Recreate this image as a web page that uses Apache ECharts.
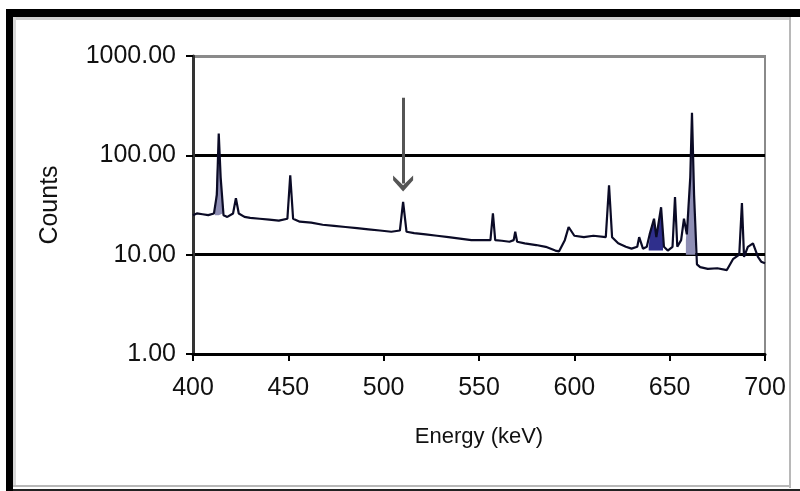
<!DOCTYPE html>
<html>
<head>
<meta charset="utf-8">
<script src="https://cdn.jsdelivr.net/npm/echarts@6/dist/echarts.min.js"></script>
<style>
html,body{margin:0;padding:0;background:#fff;}
#c{width:800px;height:491px;}
</style>
</head>
<body>
<div id="c"></div>
<script>
// Spectrum (Energy keV vs Counts)
const energy = [400, 402, 405, 408, 411, 412.5, 413.5, 414.5, 416, 418, 421, 422.5, 424, 427, 430, 435, 440, 445, 449.5, 451, 452.5, 456, 462, 468, 474, 480, 486, 492, 498, 504, 508.5, 510.2, 512, 516, 522, 528, 534, 540, 546, 552, 556, 557.3, 558.5, 562, 566, 568.2, 569, 570, 574, 580, 585, 590, 592, 595, 597, 600, 605, 610, 616.5, 618.2, 619.8, 623, 627, 630, 633, 634, 636, 638, 639.5, 641.8, 643, 645.5, 647, 649, 651.5, 652.8, 654, 656, 657.5, 659, 660.8, 661.7, 662.8, 664.3, 666, 670, 675, 680, 683.2, 686.5, 687.9, 689, 691, 693.7, 696.3, 698, 700];
const counts = [25, 26, 25.5, 25, 26, 40, 166, 60, 25, 24, 26, 37, 26, 24, 23.5, 23, 22.5, 22, 23, 63, 23, 21.5, 21, 20, 19.5, 19, 18.5, 18, 17.5, 17, 17.5, 34, 17, 16.5, 16, 15.5, 15, 14.5, 14, 14, 14, 26, 14, 13.8, 13.5, 14, 17, 13.5, 13, 12.5, 12, 11, 10.8, 14, 19, 15.5, 15, 15.5, 15, 50, 15, 13, 12, 11.5, 12, 15, 11.5, 12, 16, 23, 15, 30, 12, 11, 12, 38, 12, 14, 23, 16, 60, 268, 40, 8, 7.5, 7.2, 7.3, 7, 9, 10, 33, 9.5, 12, 13, 9.5, 8.5, 8.2];

// Shaded peak regions
const fill413Energy = [411.5, 412.5, 413.5, 414.5, 415.5];
const fill413Counts = [26, 70, 166, 70, 26];
const fillClusterEnergy = [639, 640, 641, 641.8, 643, 644.5, 645.5, 646.5];
const fillClusterCounts = [12, 18, 20, 23, 17, 22, 30, 14];
const fill662Energy = [658.5, 659, 660, 660.8, 661.7, 662.8, 663.5];
const fill662Counts = [14, 20, 24, 60, 268, 40, 12];

// Arrow marking the 511 keV line
const arrowEnergy = 510.2;
const arrowFrom = 380;
const arrowTo = 52;

const xTicks = [400, 450, 500, 550, 600, 650, 700];
const yTicks = [1, 10, 100, 1000];

const pairs = (xs, ys) => xs.map((x, i) => [x, ys[i]]);
const FONT = '"Liberation Sans", Arial, sans-serif';

const chart = echarts.init(document.getElementById('c'), null, {renderer: 'canvas'});
chart.setOption({
  animation: false,
  backgroundColor: '#fff',
  graphic: [
    {type: 'rect', shape: {x: 6, y: 9, width: 794, height: 8}, style: {fill: '#000'}, silent: true},
    {type: 'rect', shape: {x: 6, y: 9, width: 7, height: 482}, style: {fill: '#000'}, silent: true},
    {type: 'rect', shape: {x: 13, y: 17, width: 777, height: 3}, style: {fill: '#cfcfcf'}, silent: true},
    {type: 'rect', shape: {x: 13, y: 17, width: 3, height: 470}, style: {fill: '#d8d8d8'}, silent: true},
    {type: 'rect', shape: {x: 789, y: 17, width: 2, height: 471}, style: {fill: '#b8b8b8'}, silent: true},
    {type: 'rect', shape: {x: 13, y: 485, width: 778, height: 2}, style: {fill: '#b8b8b8'}, silent: true},
    {type: 'rect', shape: {x: 13, y: 489, width: 787, height: 2}, style: {fill: '#222'}, silent: true}
  ],
  grid: {left: 193, right: 35, top: 56, bottom: 137, show: true, borderColor: '#8a8a8a', borderWidth: 2, backgroundColor: 'transparent'},
  xAxis: {
    type: 'value', min: 400, max: 700, interval: 50,
    name: 'Energy (keV)', nameLocation: 'middle', nameGap: 72,
    nameTextStyle: {fontFamily: FONT, fontSize: 22, color: '#111'},
    axisLine: {show: true, onZero: false, lineStyle: {color: '#000', width: 3}},
    axisTick: {show: true, inside: false, length: 7, lineStyle: {color: '#000', width: 2}},
    axisLabel: {fontFamily: FONT, fontSize: 25, color: '#111', margin: 22,
      formatter: v => xTicks.includes(v) ? String(v) : ''},
    splitLine: {show: false}
  },
  yAxis: {
    type: 'log', logBase: 10, min: 1, max: 1000,
    name: 'Counts', nameLocation: 'middle', nameGap: 130, nameRotate: 90,
    nameTextStyle: {fontFamily: FONT, fontSize: 25, color: '#111'},
    axisLine: {show: true, lineStyle: {color: '#333', width: 3}},
    axisTick: {show: true, inside: false, length: 7, lineStyle: {color: '#000', width: 2}},
    axisLabel: {fontFamily: FONT, fontSize: 25, color: '#111', margin: 17,
      formatter: v => yTicks.includes(Math.round(v)) ? Number(v).toFixed(2) : ''},
    splitLine: {show: true, lineStyle: {color: ['#000', '#000', '#000', '#8a8a8a'], width: 3}}
  },
  series: [
    {type: 'line', data: pairs(fill413Energy, fill413Counts), showSymbol: false, silent: true, z: 1,
      lineStyle: {width: 0}, areaStyle: {color: '#8e8eb4', opacity: 1, origin: 25}},
    {type: 'line', data: pairs(fillClusterEnergy, fillClusterCounts), showSymbol: false, silent: true, z: 1,
      lineStyle: {width: 0}, areaStyle: {color: '#2f2f8c', opacity: 1, origin: 11}},
    {type: 'line', data: pairs(fill662Energy, fill662Counts), showSymbol: false, silent: true, z: 1,
      lineStyle: {width: 0}, areaStyle: {color: '#8e8eb4', opacity: 1, origin: 10}},
    {
      type: 'line', data: pairs(energy, counts), showSymbol: false, z: 3,
      lineStyle: {color: '#0b0b26', width: 2.2},
      markLine: {
        silent: true, animation: false,
        symbol: ['none', 'path://M5,0 L10,7 L10,10 L5,4 L0,10 L0,7 Z'],
        symbolSize: [20, 16],
        label: {show: false},
        lineStyle: {color: '#555', width: 3, type: 'solid'},
        data: [[{coord: [arrowEnergy, arrowFrom]}, {coord: [arrowEnergy, arrowTo]}]]
      }
    }
  ]
});
</script>
</body>
</html>
